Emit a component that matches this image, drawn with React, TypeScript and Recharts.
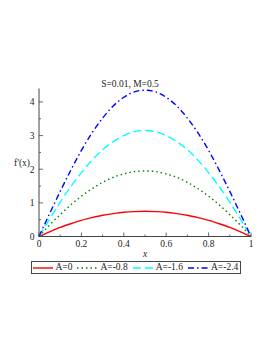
import { LineChart, Line, XAxis, YAxis, Legend } from "recharts";

const xValues = [0, 0.05, 0.1, 0.15, 0.2, 0.25, 0.3, 0.35, 0.4, 0.45, 0.5, 0.55, 0.6, 0.65, 0.7, 0.75, 0.8, 0.85, 0.9, 0.95, 1];
const a0 = [0, 0.14, 0.27, 0.38, 0.48, 0.56, 0.63, 0.68, 0.72, 0.74, 0.75, 0.74, 0.72, 0.68, 0.63, 0.56, 0.48, 0.38, 0.27, 0.14, 0];
const a08 = [0, 0.34, 0.65, 0.94, 1.2, 1.42, 1.61, 1.76, 1.86, 1.93, 1.95, 1.93, 1.86, 1.76, 1.61, 1.42, 1.2, 0.94, 0.65, 0.34, 0];
const a16 = [0, 0.52, 1.02, 1.48, 1.9, 2.27, 2.58, 2.82, 3.0, 3.12, 3.15, 3.12, 3.0, 2.82, 2.58, 2.27, 1.9, 1.48, 1.02, 0.52, 0];
const a24 = [0, 0.68, 1.34, 1.97, 2.56, 3.08, 3.52, 3.88, 4.14, 4.3, 4.35, 4.3, 4.14, 3.88, 3.52, 3.08, 2.56, 1.97, 1.34, 0.68, 0];

const xTicks = [0, 0.1, 0.2, 0.3, 0.4, 0.5, 0.6, 0.7, 0.8, 0.9, 1];
const xLabels = ["0", "", "0.2", "", "0.4", "", "0.6", "", "0.8", "", "1"];
const yTicks = [0, 0.5, 1, 1.5, 2, 2.5, 3, 3.5, 4];
const yLabels = ["0", "", "1", "", "2", "", "3", "", "4"];

const series = [
  { key: "a0", name: "A=0", color: "#ff0000", dash: undefined as string | undefined },
  { key: "a08", name: "A=-0.8", color: "#008000", dash: "1.5 3" },
  { key: "a16", name: "A=-1.6", color: "#00ffff", dash: "8 4" },
  { key: "a24", name: "A=-2.4", color: "#0000ff", dash: "6 3 1.5 3" },
];

const data = xValues.map((x, i) => ({ x, a0: a0[i], a08: a08[i], a16: a16[i], a24: a24[i] }));

const FONT = "Liberation Serif";
const FS = 9.5;
const AXIS = "#444";

const XTick = (props: any) => {
  const { x, y, payload } = props;
  const label = xLabels[xTicks.indexOf(payload.value)];
  return (
    <g>
      <line x1={x} x2={x} y1={y} y2={y - (label ? 4 : 2)} stroke={AXIS} strokeWidth={0.8} />
      {label && (
        <text x={x} y={y + 4} dy="0.71em" textAnchor="middle" fontSize={FS} fontFamily={FONT} fill="#222">
          {label}
        </text>
      )}
    </g>
  );
};

const YTick = (props: any) => {
  const { x, y, payload } = props;
  const label = yLabels[yTicks.indexOf(payload.value)];
  return (
    <g>
      <line x1={x} x2={x + (label ? 4 : 2)} y1={y} y2={y} stroke={AXIS} strokeWidth={0.8} />
      {label && (
        <text x={x - 4.5} y={y} dy="0.35em" textAnchor="end" fontSize={FS} fontFamily={FONT} fill="#222">
          {label}
        </text>
      )}
    </g>
  );
};

const LegendBox = () => (
  <div
    style={{
      display: "flex",
      alignItems: "center",
      border: "1px solid #444",
      height: 13,
      boxSizing: "border-box",
      padding: "0 2px 0 1px",
      fontFamily: FONT,
      fontSize: FS,
      color: "#222",
      background: "#fff",
      whiteSpace: "nowrap",
    }}
  >
    {series.map((s, i) => (
      <div key={s.key} style={{ display: "flex", alignItems: "center", marginRight: i < series.length - 1 ? 5 : 0 }}>
        <svg width={20} height={8} style={{ display: "block" }}>
          <line x1={0} x2={20} y1={4} y2={4} stroke={s.color} strokeWidth={1.4} strokeDasharray={s.dash} />
        </svg>
        <span style={{ marginLeft: 3, lineHeight: "11px" }}>{s.name}</span>
      </div>
    ))}
  </div>
);

export default function App() {
  return (
    <div style={{ position: "absolute", left: 0, top: 0, width: 273, height: 353, background: "#fff" }}>
      <LineChart
        width={273}
        height={353}
        data={data}
        margin={{ top: 88.5, right: 22, bottom: 94.5, left: 0 }}
      >
        <XAxis
          dataKey="x"
          type="number"
          domain={[0, 1]}
          ticks={xTicks}
          interval={0}
          tick={XTick}
          tickLine={false}
          tickSize={0}
          tickMargin={0}
          height={22}
          axisLine={{ stroke: AXIS }}
          label={{ value: "x", position: "insideBottom", offset: 2, fontSize: FS, fontStyle: "italic", fontFamily: FONT, fill: "#222" }}
        />
        <XAxis xAxisId="top" orientation="top" dataKey="x" type="number" domain={[0, 1]} height={0} tick={false} tickLine={false} axisLine={{ stroke: AXIS }} />
        <YAxis
          type="number"
          domain={[0, 4.4]}
          ticks={yTicks}
          interval={0}
          tick={YTick}
          tickLine={false}
          tickSize={0}
          tickMargin={0}
          width={39}
          axisLine={{ stroke: AXIS }}
          label={{ value: "f'(x)", position: "insideLeft", offset: 14, fontSize: FS, fontFamily: FONT, fill: "#222" }}
        />
        <YAxis yAxisId="right" orientation="right" type="number" domain={[0, 4.4]} width={0} tick={false} tickLine={false} axisLine={{ stroke: AXIS }} />
        {series.map((s) => (
          <Line
            key={s.key}
            dataKey={s.key}
            name={s.name}
            type="monotone"
            stroke={s.color}
            strokeWidth={1.4}
            strokeDasharray={s.dash}
            dot={false}
            isAnimationActive={false}
          />
        ))}
        <Legend
          layout="horizontal"
          verticalAlign="middle"
          align="center"
          content={LegendBox}
          wrapperStyle={{ left: 30.5, top: 261, width: "auto" }}
        />
      </LineChart>
      <div
        style={{
          position: "absolute",
          left: 0,
          width: 260,
          top: 78.5,
          textAlign: "center",
          fontFamily: FONT,
          fontSize: FS,
          lineHeight: "11px",
          color: "#222",
        }}
      >
        S=0.01, M=0.5
      </div>
    </div>
  );
}
